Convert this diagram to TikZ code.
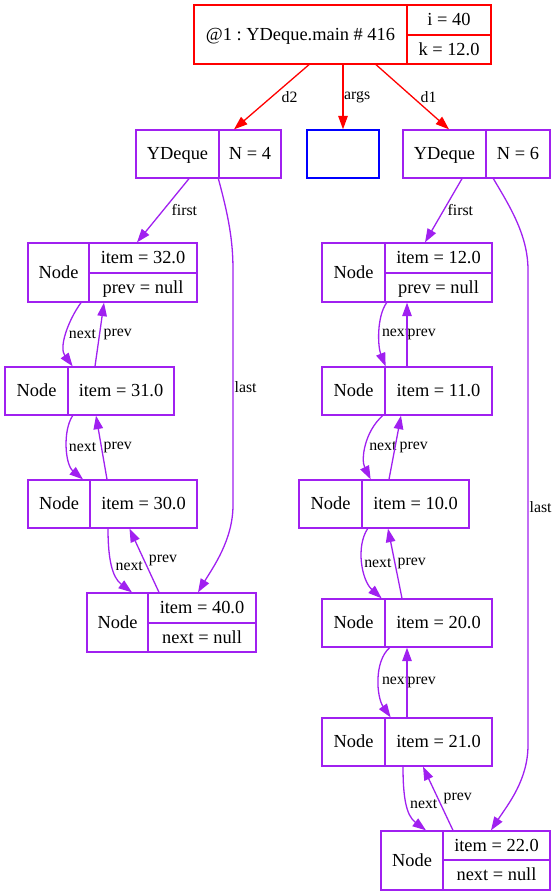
\documentclass[tikz,border=0pt]{standalone}
\usepackage{fontspec}
\setmainfont{Liberation Serif}
\usepackage{tikz}
\usetikzlibrary{positioning}
\usetikzlibrary{arrows.meta}
\definecolor{gvpurple}{RGB}{160,32,240}
\frenchspacing

\begin{document}
\begin{tikzpicture}[x=1pt,y=-1pt]
  \useasboundingbox (0,0) rectangle (556,896);
  \begin{scope}[every node/.style={rectangle,draw=gvpurple,line width=1.3pt,inner sep=0pt,minimum height=48pt,
      text height=11.8pt,text depth=0pt,font=\fontsize{18.4}{22}\selectfont}]
    % main frame
    \node[draw=red,minimum width=213pt,minimum height=59pt] (main) at (300.5,34.5) {@1 : YDeque.main \# 416};
    \node[draw=red,minimum width=84pt,minimum height=30pt] (mainI) at (449,20) {i = 40};
    \node[draw=red,minimum width=84pt,minimum height=29pt] (mainK) at (449,49.5) {k = 12.0};
    % deques and args
    \node[minimum width=83pt] (ydl) at (177.5,154) {YDeque};
    \node[minimum width=62pt] (ydlN) at (250,154) {N = 4};
    \node[draw=blue,minimum width=72pt] (args) at (343,154) {};
    \node[minimum width=83pt] (ydr) at (444.5,154) {YDeque};
    \node[minimum width=64pt] (ydrN) at (518,154) {N = 6};
    % left list
    \node[minimum width=61pt,minimum height=59pt] (n32) at (58.5,272.5) {Node};
    \node[minimum width=108pt,minimum height=30pt] (n32i) at (143,258) {item = 32.0};
    \node[minimum width=108pt,minimum height=29pt] (n32p) at (143,287.5) {prev = null};
    \node[minimum width=63pt] (n31) at (36.5,391) {Node};
    \node[minimum width=106pt] (n31i) at (121,391) {item = 31.0};
    \node[minimum width=62pt] (n30) at (59,504) {Node};
    \node[minimum width=107pt] (n30i) at (143.5,504) {item = 30.0};
    \node[minimum width=61pt,minimum height=59pt] (n40) at (117.5,622.5) {Node};
    \node[minimum width=108pt,minimum height=30pt] (n40i) at (202,608) {item = 40.0};
    \node[minimum width=108pt,minimum height=29pt] (n40n) at (202,637.5) {next = null};
    % right list
    \node[minimum width=63pt,minimum height=59pt] (n12) at (353.5,272.5) {Node};
    \node[minimum width=107pt,minimum height=30pt] (n12i) at (438.5,258) {item = 12.0};
    \node[minimum width=107pt,minimum height=29pt] (n12p) at (438.5,287.5) {prev = null};
    \node[minimum width=63pt] (n11) at (353.5,391) {Node};
    \node[minimum width=107pt] (n11i) at (438.5,391) {item = 11.0};
    \node[minimum width=63pt] (n10) at (330.5,504) {Node};
    \node[minimum width=107pt] (n10i) at (415.5,504) {item = 10.0};
    \node[minimum width=63pt] (n20) at (353.5,623) {Node};
    \node[minimum width=107pt] (n20i) at (438.5,623) {item = 20.0};
    \node[minimum width=63pt] (n21) at (353.5,742) {Node};
    \node[minimum width=107pt] (n21i) at (438.5,742) {item = 21.0};
    \node[minimum width=62pt,minimum height=59pt] (n22) at (412,860.5) {Node};
    \node[minimum width=107pt,minimum height=29pt] (n22i) at (496.5,845.5) {item = 22.0};
    \node[minimum width=107pt,minimum height=30pt] (n22n) at (496.5,875) {next = null};
  \end{scope}
  \begin{scope}[gvpurple,line width=1.3pt,every path/.style={-{Triangle[length=13.5pt,width=9.5pt]}},
      every node/.style={inner sep=0pt,text=black,font=\fontsize{15.8}{18}\selectfont}]
    \draw[red] ([xshift=8.5pt]main.south) -- node[right=9.5pt]{d2} ([xshift=-16pt]ydlN.north);
    \draw[red] ([xshift=42.5pt]main.south) -- node[right=0.5pt]{args} (args.north);
    \draw[red] ([xshift=75.5pt]main.south) -- node[right=7.5pt]{d1} ([xshift=4.5pt]ydr.north);
    % first and last
    \draw ([xshift=11.5pt]ydl.south) -- node[right=8pt]{first} ([xshift=-6pt]n32i.north);
    \draw ([xshift=17.5pt]ydr.south) -- node[right=3.5pt]{first} ([xshift=-13.5pt]n12i.north);
    \draw (ydlN.south west) .. controls +(10,37) and +(0,-30) .. (233,270)
      -- node[right=1pt]{last} (233,505) .. controls +(0,35) and +(15,-25) .. ([xshift=-4pt]n40i.north);
    \draw ([xshift=8pt]ydrN.south west) .. controls +(16,27) and +(0,-35) .. (528,270)
      -- node[right=1pt]{last} (528,745) .. controls +(0,35) and +(17,-26) .. ([xshift=-5.5pt]n22i.north);
    % left list links
    \draw ([xshift=22.5pt]n32.south) .. controls +(-13,18) and +(-14,-19) .. node[right=1.5pt]{next} ([xshift=4pt]n31.north east);
    \draw ([xshift=-26pt]n31i.north) -- node[right=3.5pt]{prev} ([xshift=-39pt]n32p.south);
    \draw ([xshift=4pt]n31.south east) .. controls +(-10,15) and +(-18,-15) .. node[right=1pt]{next} ([xshift=24pt]n30.north);
    \draw ([xshift=-36.5pt]n30i.north) -- node[right=1.5pt]{prev} ([xshift=-25pt]n31i.south);
    \draw ([xshift=-35.5pt]n30i.south) .. controls +(0,30) and +(-20,-15) .. node[right=2.5pt]{next} ([xshift=14.5pt]n40.north);
    \draw ([xshift=-43pt]n40i.north) -- node[right=4pt]{prev} ([xshift=-14pt]n30i.south);
    % right list links
    \draw ([xshift=1pt]n12.south east) .. controls +(-10,14) and +(-8,-20) .. node[right=2pt]{next} (n11.north east);
    \draw ([xshift=-31.5pt]n11i.north) -- node[right=0pt]{prev} ([xshift=-31.5pt]n12p.south);
    \draw ([xshift=-3pt]n11.south east) .. controls +(-18,16) and +(-10,-20) .. node[right=2.5pt]{next} ([xshift=8pt]n10.north east);
    \draw ([xshift=-26.5pt]n10i.north) -- node[right=4pt]{prev} ([xshift=-37.5pt]n11i.south);
    \draw ([xshift=5pt]n10.south east) .. controls +(-12,18) and +(-20,-18) .. node[right=1pt]{next} ([xshift=-4pt]n20.north east);
    \draw ([xshift=-36.5pt]n20i.north) -- node[right=2pt]{prev} ([xshift=-27.5pt]n10i.south);
    \draw ([xshift=4pt]n20.south east) .. controls +(-16,14) and +(-14,-20) .. node[right=2.5pt]{next} ([xshift=5pt]n21.north east);
    \draw ([xshift=-31.5pt]n21i.north) -- node[right=0pt]{prev} ([xshift=-31.5pt]n20i.south);
    \draw ([xshift=-35.5pt]n21i.south) .. controls +(0,30) and +(-20,-15) .. node[right=2.5pt]{next} ([xshift=14pt]n22.north);
    \draw ([xshift=-43.5pt]n22i.north) -- node[right=5pt]{prev} ([xshift=-15.5pt]n21i.south);
  \end{scope}
\end{tikzpicture}
\end{document}
